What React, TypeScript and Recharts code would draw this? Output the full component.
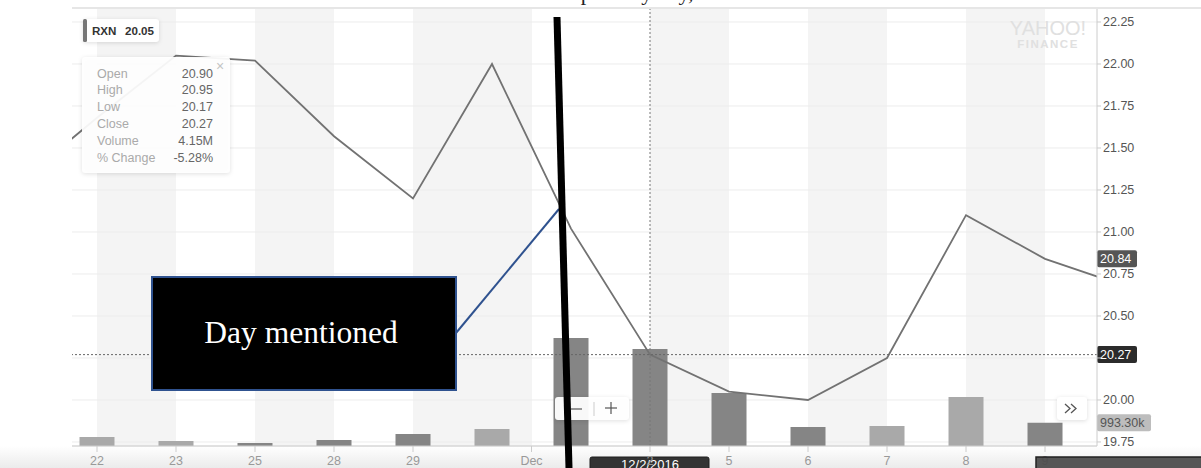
import {
    ComposedChart,
    Line,
    Bar,
    Cell,
    XAxis,
    YAxis,
    CartesianGrid,
    ReferenceLine
} from 'recharts';

// trading day index: -1 = Nov 21 (off the left edge), 13 = Dec 12 (off the right edge)
const dayIndex = [-1, 0, 1, 2, 3, 4, 5, 6, 7, 8, 9, 10, 11, 12, 13];
const closes = [21.29, 21.68, 22.05, 22.02, 21.57, 21.2, 22.0, 21.02, 20.27, 20.05, 20.0, 20.25, 21.1, 20.84, 20.68];
// volume in millions
const volumes = [null, 0.385, 0.214, 0.128, 0.257, 0.51, 0.73, 4.62, 4.15, 2.27, 0.81, 0.86, 2.1, 0.9933, null];
const volumeUp = [false, true, true, false, false, false, true, false, false, false, false, true, true, false, false];

const tickPositions = [0, 1, 2, 3, 4, 5.5, 7, 8, 9, 10, 11, 12];
const tickLabels = ['22', '23', '25', '28', '29', 'Dec', '2', '5', '6', '7', '8', '9'];
const priceTicks = [19.75, 20.0, 20.25, 20.5, 20.75, 21.0, 21.25, 21.5, 21.75, 22.0, 22.25];
// the crosshair price badge sits on top of this tick label
const hiddenPriceTick = 20.25;

const tooltipLabels = ['Open', 'High', 'Low', 'Close', 'Volume', '% Change'];
const tooltipValues = ['20.90', '20.95', '20.17', '20.27', '4.15M', '-5.28%'];

const SANS = '"Liberation Sans", Arial, sans-serif';
const SERIF = '"Liberation Serif", "Times New Roman", serif';
const LIGHT = '#a9a9a9';
const DARK = '#858585';
const SHADOW = { filter: 'drop-shadow(0px 1px 2px rgba(0,0,0,0.13))' };

const chartData = dayIndex.map((d, k) => ({ i: d, close: closes[k], volume: volumes[k] }));

function Badge({ viewBox, text, bg, fg, w }: any) {
    if (!viewBox) return null;
    const x = viewBox.x + viewBox.width;
    const y = viewBox.y;
    return (
        <g>
            <rect x={x} y={y - 8.5} width={w} height={17} rx={2} fill={bg} />
            <text x={x + 3} y={y + 4.5} fontSize={12.5} fill={fg} fontFamily={SANS}>{text}</text>
        </g>
    );
}

function DateBadge({ viewBox, text }: any) {
    if (!viewBox) return null;
    const cx = viewBox.x;
    const top = viewBox.y + viewBox.height + 11;
    return (
        <g>
            <rect x={cx - 60} y={top} width={119} height={20} rx={2} fill="#333" stroke="#1e1e1e" />
            <text x={cx} y={top + 12.3} textAnchor="middle" fontSize={13} fill="#fff" fontFamily={SANS}>{text}</text>
        </g>
    );
}

export default function App() {
    return (
        <div style={{ position: 'absolute', left: 0, top: 0, width: 1201, height: 468, overflow: 'hidden', background: '#fff' }}>
            <div style={{ position: 'absolute', left: 0, top: 446, width: 1201, height: 22, background: 'linear-gradient(#ffffff, #ebebeb)' }} />
            <div style={{ position: 'absolute', left: 0, top: 0 }}>
                <ComposedChart
                    width={1201}
                    height={468}
                    data={chartData}
                    margin={{ top: 8, right: 0, bottom: 0, left: 72 }}
                    style={{ fontFamily: SANS }}
                >
                    <CartesianGrid horizontal={false} stroke="none" verticalFill={['#ffffff', '#f4f4f4']} />
                    <CartesianGrid vertical={false} stroke="#ececec" />
                    <XAxis
                        type="number"
                        dataKey="i"
                        domain={[-0.3165, 12.658]}
                        allowDataOverflow
                        ticks={tickPositions}
                        interval={0}
                        tickFormatter={(v) => tickLabels[tickPositions.indexOf(v)] ?? ''}
                        height={22}
                        tickSize={6}
                        tickMargin={4}
                        stroke="#cccccc"
                        tick={{ fontSize: 12.5, fill: '#999' }}
                    />
                    <YAxis
                        orientation="right"
                        width={104}
                        domain={[19.726, 22.3333]}
                        allowDataOverflow
                        ticks={priceTicks}
                        interval={0}
                        tickFormatter={(v) => (v === hiddenPriceTick ? '' : Number(v).toFixed(2))}
                        tickSize={4}
                        tickMargin={2}
                        stroke="#cccccc"
                        tick={{ fontSize: 12.5, fill: '#555', textAnchor: 'start' }}
                    />
                    <YAxis yAxisId="vol" hide domain={[0, 18.74]} allowDataOverflow />
                    <Bar yAxisId="vol" dataKey="volume" barSize={35} isAnimationActive={false}>
                        {chartData.map((row, k) => (
                            <Cell key={k} fill={volumeUp[k] ? LIGHT : DARK} />
                        ))}
                    </Bar>
                    <Line
                        dataKey="close"
                        stroke="#727272"
                        strokeWidth={1.8}
                        dot={false}
                        activeDot={false}
                        isAnimationActive={false}
                    />
                    <ReferenceLine x={7} stroke="#777" strokeDasharray="2 2" label={<DateBadge text="12/2/2016" />} />
                    <ReferenceLine y={20.27} stroke="#666" strokeDasharray="2 2" label={<Badge text="20.27" bg="#2b2b2b" fg="#fff" w={40} />} />
                    <ReferenceLine y={20.84} stroke="none" label={<Badge text="20.84" bg="#555" fg="#fff" w={40} />} />
                    <ReferenceLine yAxisId="vol" y={0.9933} stroke="none" label={<Badge text="993.30k" bg="#bdbdbd" fg="#555" w={54} />} />
                </ComposedChart>
            </div>
            <svg width={1201} height={468} style={{ position: 'absolute', left: 0, top: 0, pointerEvents: 'none' }}>
                <line x1={72} x2={1201} y1={8} y2={8} stroke="#e6e6e6" strokeWidth={2} />
                <text x={610} y={-0.5} textAnchor="middle" fontSize={22} fill="#222" fontFamily={SERIF}>RXN stock price by day, 2016</text>

                {/* watermark */}
                <text x={1048} y={35} textAnchor="middle" fontSize={20} fill="#e0e0e0" fontFamily={SANS}>YAHOO!</text>
                <text x={1048} y={47.5} textAnchor="middle" fontSize={11.5} fontWeight="bold" letterSpacing={1.5} fill="#e0e0e0" fontFamily={SANS}>FINANCE</text>

                {/* symbol label */}
                <rect x={83} y={19} width={76} height={23} rx={3} fill="#fff" style={SHADOW} />
                <rect x={83} y={19} width={4} height={23} rx={1.5} fill="#777" />
                <text x={92} y={35} fontSize={11.6} fontWeight="bold" fill="#333" fontFamily={SANS}>RXN</text>
                <text x={125} y={35} fontSize={11.6} fontWeight="bold" fill="#333" fontFamily={SANS}>20.05</text>

                {/* tooltip */}
                <rect x={82} y={57} width={148} height={116} rx={3} fill="#fff" fillOpacity={0.93} style={SHADOW} />
                {tooltipLabels.map((lab, k) => (
                    <g key={lab}>
                        <text x={97} y={77.5 + k * 16.8} fontSize={12.5} fill="#aaa" fontFamily={SANS}>{lab}</text>
                        <text x={213} y={77.5 + k * 16.8} fontSize={12.5} fill="#666" textAnchor="end" fontFamily={SANS}>{tooltipValues[k]}</text>
                    </g>
                ))}
                <text x={220} y={71} fontSize={14} fill="#c4c4c4" textAnchor="middle" fontFamily={SANS}>×</text>

                {/* zoom controls */}
                <rect x={555} y={397} width={74} height={23} rx={3} fill="#fff" fillOpacity={0.95} style={SHADOW} />
                <line x1={571} x2={582} y1={409} y2={409} stroke="#555" strokeWidth={1.2} />
                <line x1={594} x2={594} y1={402} y2={416} stroke="#ccc" strokeWidth={1} />
                <line x1={605} x2={617} y1={408} y2={408} stroke="#555" strokeWidth={1.2} />
                <line x1={611} x2={611} y1={402} y2={414} stroke="#555" strokeWidth={1.2} />

                <rect x={1057} y={397} width={30} height={23} rx={3} fill="#fff" style={SHADOW} />
                <polyline points="1065,404 1070,408.5 1065,413" fill="none" stroke="#555" strokeWidth={1.3} />
                <polyline points="1071,404 1076,408.5 1071,413" fill="none" stroke="#555" strokeWidth={1.3} />

                <rect x={1036} y={457} width={170} height={15} fill="#4a4a4a" fillOpacity={0.93} stroke="#222" strokeWidth={1.5} />

                {/* annotation */}
                <line x1={456} y1={333} x2={559} y2={209} stroke="#2f528f" strokeWidth={2} />
                <rect x={152} y={277} width={304} height={113} fill="#000" stroke="#2f528f" strokeWidth={2} />
                <text x={301} y={343} textAnchor="middle" fontSize={31.5} fill="#fff" fontFamily={SERIF}>Day mentioned</text>
                <line x1={557} y1={17} x2={569} y2={468} stroke="#000" strokeWidth={7} />
            </svg>
        </div>
    );
}
